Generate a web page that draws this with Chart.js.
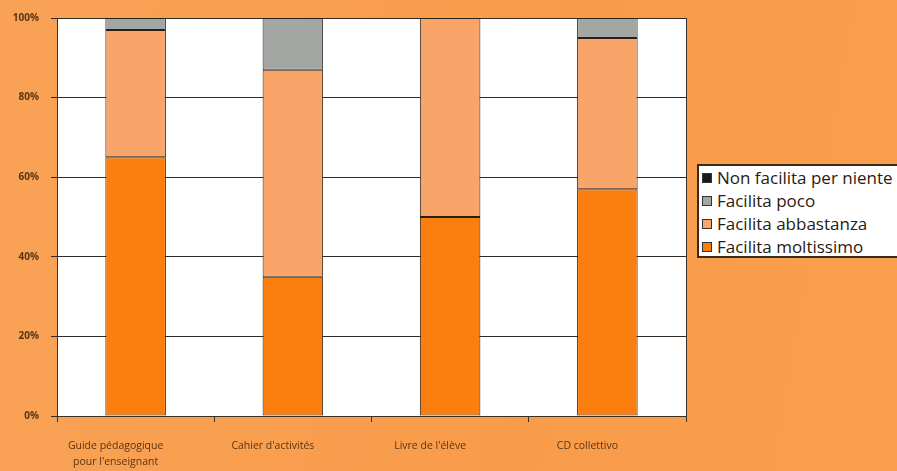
<!DOCTYPE html>
<html>
<head>
<meta charset="utf-8">
<script src="https://cdn.jsdelivr.net/npm/chart.js@4"></script>
<style>
  html, body { margin: 0; padding: 0; }
  body {
    width: 897px; height: 471px; overflow: hidden; position: relative;
    background: linear-gradient(100deg, #f9a256 0%, #f89c4a 60%, #fa9f4e 100%);
  }
  #wrap { position: absolute; left: 0; top: 0; width: 897px; height: 471px; }
  #legenda {
    position: absolute; left: 697px; top: 164px; width: 215px; height: 94px;
    background: #fff; border: 2px solid #3a2a1a; box-sizing: border-box;
    font-family: "Open Sans", sans-serif; font-size: 17px; color: #2a1a10;
    padding: 0 0 0 3px;
  }
  #legenda div { height: 23px; line-height: 23px; white-space: nowrap; }
  #legenda span {
    display: inline-block; width: 8px; height: 8px; margin-right: 5px;
    border: 1px solid #333; vertical-align: 1px;
  }
</style>
</head>
<body>
<div id="wrap"><canvas id="grafico" width="897" height="471"></canvas></div>
<div id="legenda"></div>
<script>
// Dati (percentuali)
var categorie = [["Guide pédagogique", "pour l'enseignant"], "Cahier d'activités", "Livre de l'élève", "CD collettivo"];
var moltissimo = [65, 35, 50, 57];
var abbastanza = [32, 52, 50, 38];
var poco = [3, 13, 0, 5];
var niente = [0, 0, 0, 0];
var tacche = [0, 20, 40, 60, 80, 100];

var etichette = ["Facilita moltissimo", "Facilita abbastanza", "Facilita poco", "Non facilita per niente"];
var colori = ["#fb7f0e", "#f9a468", "#a3a7a3", "#1a1a1a"];

// sfondo bianco dell'area e bordo destro
var sfondoArea = {
    id: "sfondoArea",
    beforeDraw: function (chart) {
        var a = chart.chartArea, ctx = chart.ctx;
        ctx.save();
        ctx.fillStyle = "#ffffff";
        ctx.fillRect(a.left, a.top, a.right - a.left, a.bottom - a.top);
        ctx.restore();
    },
    afterDraw: function (chart) {
        var a = chart.chartArea, ctx = chart.ctx;
        ctx.save();
        ctx.strokeStyle = "#3a3028";
        ctx.lineWidth = 1;
        ctx.beginPath();
        ctx.moveTo(a.right + 0.5, a.top);
        ctx.lineTo(a.right + 0.5, a.bottom + 6);
        ctx.stroke();
        ctx.restore();
    }
};

var serie = [moltissimo, abbastanza, poco, niente];
var datasets = serie.map(function (valori, i) {
    return {
        label: etichette[i],
        data: valori,
        backgroundColor: colori[i],
        borderColor: "#2a2018",
        borderWidth: 1,
        borderSkipped: false,
        categoryPercentage: 1,
        barPercentage: 0.385
    };
});

new Chart(document.getElementById("grafico"), {
    type: "bar",
    data: { labels: categorie, datasets: datasets },
    plugins: [sfondoArea],
    options: {
        responsive: false,
        animation: false,
        layout: { padding: { left: 0, right: 211, top: 15, bottom: 0 } },
        plugins: { legend: { display: false }, tooltip: { enabled: false } },
        scales: {
            x: {
                stacked: true,
                grid: { offset: true, drawOnChartArea: false, color: "#3a3028", tickLength: 6 },
                border: { color: "#3a3028", width: 1 },
                ticks: {
                    color: "#5a3414",
                    font: { family: "Open Sans", size: 10.5, lineHeight: 1.55 },
                    padding: 16,
                    labelOffset: -20,
                    maxRotation: 0
                },
                afterFit: function (s) { s.height = 55; }
            },
            y: {
                stacked: true,
                min: 0,
                max: 100,
                afterBuildTicks: function (s) {
                    s.ticks = tacche.map(function (v) { return { value: v }; });
                },
                grid: { color: "#2e2a26", lineWidth: 1, tickLength: 6 },
                border: { color: "#3a3028", width: 1 },
                ticks: {
                    color: "#5a3414",
                    font: { family: "Open Sans", size: 10, weight: "bold" },
                    padding: 12,
                    callback: function (v) { return v + "%"; }
                },
                afterFit: function (s) { s.width = 57; }
            }
        }
    }
});

// legenda in ordine inverso
var leg = document.getElementById("legenda");
for (var i = etichette.length - 1; i >= 0; i--) {
    var d = document.createElement("div");
    d.innerHTML = '<span style="background:' + colori[i] + '"></span>' + etichette[i];
    leg.appendChild(d);
}
</script>
</body>
</html>
